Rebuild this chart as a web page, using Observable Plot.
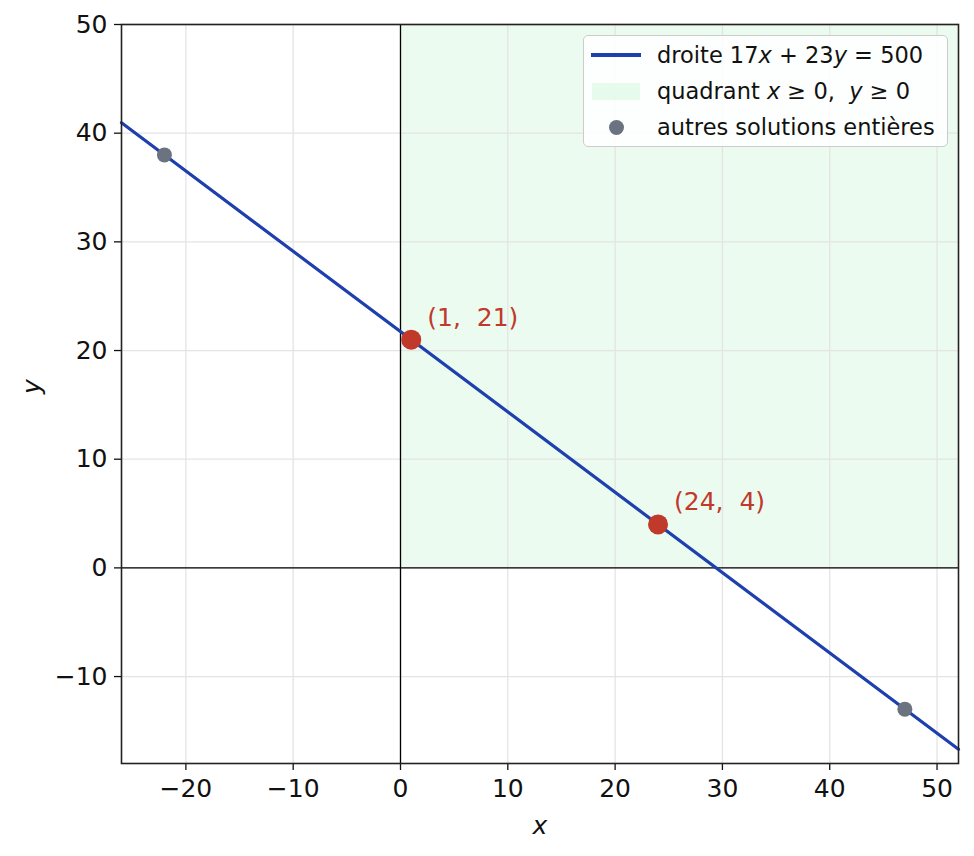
<!DOCTYPE html>
<html>
<head>
<meta charset="utf-8">
<script src="https://cdn.jsdelivr.net/npm/d3@7"></script>
<script src="https://cdn.jsdelivr.net/npm/@observablehq/plot@0.6"></script>
<style>
  body { margin: 0; background: #fff; font-family: "DejaVu Sans", sans-serif; }
  #wrap { position: relative; width: 974px; height: 856px; }
  #legend {
    position: absolute; left: 583px; top: 35px; width: 365px; height: 112px;
    background: rgba(255,255,255,0.85); border: 1.3px solid #cccccc; border-radius: 5px;
    box-sizing: border-box; font-size: 22.5px; color: #111;
  }
  .row { position: absolute; left: 0; height: 36px; display: flex; align-items: center; white-space: nowrap; }
  .sw { width: 50px; margin-left: 7px; margin-right: 16px; display: flex; justify-content: center; align-items: center; }
</style>
</head>
<body>
<div id="wrap"></div>
<script>
// Equation a*x + b*y = c
const eqA = 17, eqB = 23, eqC = 500;
// Axis domains
const xDomain = [-26, 52];
const yDomain = [-18, 50];
const xTicks = [-20, -10, 0, 10, 20, 30, 40, 50];
const yTicks = [-10, 0, 10, 20, 30, 40, 50];
// Line end x values (plot edges)
const lineX = [-26, 52];
// Highlighted non-negative solutions
const mainX = [1, 24];
const mainY = [21, 4];
const mainLabels = ["(1,\u00a0\u00a021)", "(24,\u00a0\u00a04)"];
// Other integer solutions
const otherX = [-22, 47];
const otherY = [38, -13];

const lineData = lineX.map(x => ({x, y: (eqC - eqA * x) / eqB}));
const mainData = mainX.map((x, i) => ({x, y: mainY[i], label: mainLabels[i]}));
const otherData = otherX.map((x, i) => ({x, y: otherY[i]}));
const fmt = d => d < 0 ? "\u2212" + Math.abs(d) : String(d);

const blue = "#1e3fae", red = "#c0392b", grey = "#6b7280";

const chart = Plot.plot({
  width: 974, height: 856,
  marginLeft: 121, marginRight: 16, marginTop: 24, marginBottom: 93,
  style: {fontFamily: "DejaVu Sans, sans-serif", fontSize: "25px", color: "#111", background: "#fff"},
  x: {domain: xDomain, ticks: xTicks, tickFormat: fmt, label: null},
  y: {domain: yDomain, ticks: yTicks, tickFormat: fmt, label: null},
  marks: [
    Plot.rect([{x1: 0, x2: xDomain[1], y1: 0, y2: yDomain[1]}], {x1: "x1", x2: "x2", y1: "y1", y2: "y2", fill: "#ebfbef"}),
    Plot.gridX(xTicks, {stroke: "#e4e4e4", strokeOpacity: 1, strokeWidth: 1.3}),
    Plot.gridY(yTicks, {stroke: "#e4e4e4", strokeOpacity: 1, strokeWidth: 1.3}),
    Plot.ruleX([0], {stroke: "#000", strokeWidth: 1.3}),
    Plot.ruleY([0], {stroke: "#000", strokeWidth: 1.3}),
    Plot.line(lineData, {x: "x", y: "y", stroke: blue, strokeWidth: 3.2}),
    Plot.dot(otherData, {x: "x", y: "y", r: 7.5, fill: grey}),
    Plot.dot(mainData, {x: "x", y: "y", r: 10, fill: red}),
    Plot.text(mainData, {x: "x", y: "y", text: "label", dx: 16, dy: -22, textAnchor: "start", fill: red, fontSize: 25}),
    Plot.axisX({ticks: xTicks, tickFormat: fmt, tickSize: 7, tickPadding: 9, fontSize: 25, strokeWidth: 1.3, label: null}),
    Plot.axisY({ticks: yTicks, tickFormat: fmt, tickSize: 7, tickPadding: 7, fontSize: 25, strokeWidth: 1.3, label: null}),
    Plot.frame({stroke: "#222", strokeWidth: 1.6}),
    Plot.text(["x"], {frameAnchor: "bottom", dy: 70, text: d => d, fontStyle: "italic", fontSize: 25}),
    Plot.text(["y"], {frameAnchor: "left", dx: -90, rotate: -90, text: d => d, fontStyle: "italic", fontSize: 25})
  ]
});

const wrap = document.getElementById("wrap");
wrap.appendChild(chart);

const legend = document.createElement("div");
legend.id = "legend";
legend.innerHTML = `
  <div class="row" style="top:1px"><div class="sw"><div style="width:50px;height:3.2px;background:${blue}"></div></div><span>droite 17<i>x</i> + 23<i>y</i> = 500</span></div>
  <div class="row" style="top:37px"><div class="sw"><div style="width:48px;height:17px;background:#e6fbec"></div></div><span>quadrant <i>x</i> ≥ 0,&nbsp; <i>y</i> ≥ 0</span></div>
  <div class="row" style="top:73px"><div class="sw"><div style="width:15px;height:15px;border-radius:50%;background:${grey}"></div></div><span>autres solutions entières</span></div>
`;
wrap.appendChild(legend);
</script>
</body>
</html>
